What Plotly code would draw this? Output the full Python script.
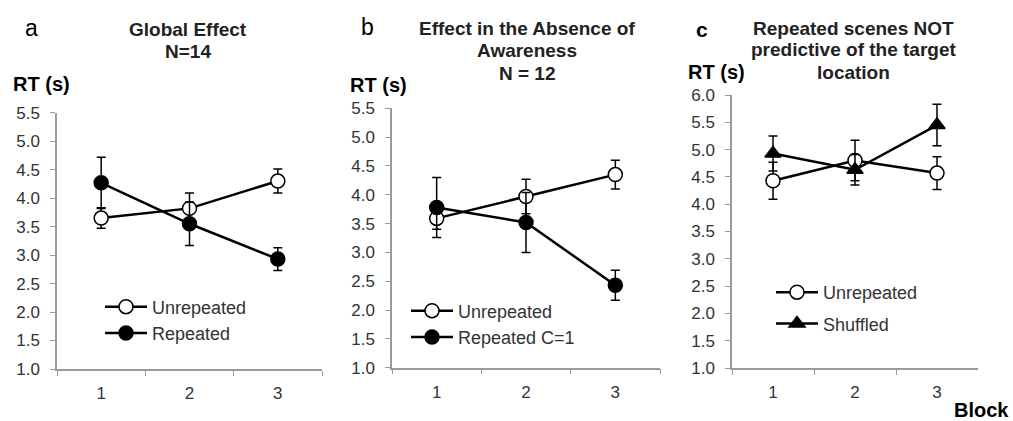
import plotly.graph_objects as go

blocks = ["1", "2", "3"]

# Panel a: Global Effect N=14
a_unrep = [3.65, 3.82, 4.30]
a_unrep_err = [0.18, 0.27, 0.21]
a_rep = [4.27, 3.55, 2.93]
a_rep_err = [0.45, 0.38, 0.20]

# Panel b: Effect in the Absence of Awareness N=12
b_unrep = [3.59, 3.97, 4.35]
b_unrep_err = [0.19, 0.30, 0.25]
b_rep = [3.78, 3.52, 2.43]
b_rep_err = [0.52, 0.52, 0.26]

# Panel c: Repeated scenes NOT predictive of the target location
c_unrep = [4.43, 4.80, 4.57]
c_unrep_err = [0.34, 0.37, 0.30]
c_shuf = [4.93, 4.63, 5.45]
c_shuf_err = [0.32, 0.28, 0.38]

W, H = 1013, 421
FONT = "Arial"

def px_x(v):
    return v / W

def px_y(v):
    return (H - v) / H

fig = go.Figure()

def add(x, y, err, name, symbol, fill, xa, ya, legend, group):
    fig.add_trace(go.Scatter(
        x=x, y=y, name=name, mode="lines+markers",
        xaxis=xa, yaxis=ya, legend=legend, legendgroup=group,
        line=dict(color="black", width=2.5),
        marker=dict(symbol=symbol, size=14, color=fill,
                    line=dict(color="black", width=1.5)),
        error_y=dict(type="data", array=err, visible=True,
                     color="black", thickness=1.5, width=4.5),
    ))

add(blocks, a_unrep, a_unrep_err, "Unrepeated", "circle", "white", "x", "y", "legend", "a")
add(blocks, a_rep, a_rep_err, "Repeated", "circle", "black", "x", "y", "legend", "a")
add(blocks, b_unrep, b_unrep_err, "Unrepeated", "circle", "white", "x2", "y2", "legend2", "b")
add(blocks, b_rep, b_rep_err, "Repeated C=1", "circle", "black", "x2", "y2", "legend2", "b")
add(blocks, c_unrep, c_unrep_err, "Unrepeated", "circle", "white", "x3", "y3", "legend3", "c1")
add(blocks, c_shuf, c_shuf_err, "Shuffled", "triangle-up", "black", "x3", "y3", "legend3", "c2")

axis_common = dict(showline=True, linecolor="#9a9a9a", linewidth=1.5,
                   ticks="outside", tickcolor="#9a9a9a", ticklen=5,
                   showgrid=False, zeroline=False, automargin=False,
                   tickfont=dict(family=FONT, size=17, color="#333333"))

xdoms = [(57, 322), (392, 660), (732, 978)]
ydoms = [(369, 112.7), (367.7, 108.3), (368, 95)]
yranges = [[1, 5.5], [1, 5.5], [1, 6]]
yticks = [[1 + 0.5 * i for i in range(10)], [1 + 0.5 * i for i in range(10)],
          [1 + 0.5 * i for i in range(11)]]

layout = {}
for i in range(3):
    sx = "" if i == 0 else str(i + 1)
    layout["xaxis" + sx] = dict(axis_common, type="category", tickson="boundaries",
                                domain=[px_x(xdoms[i][0]), px_x(xdoms[i][1])],
                                anchor="y" + sx, ticklabelstandoff=8,
                                range=[-0.5, 2.5])
    layout["yaxis" + sx] = dict(axis_common, range=yranges[i],
                                domain=[px_y(ydoms[i][0]), px_y(ydoms[i][1])],
                                anchor="x" + sx, tickvals=yticks[i],
                                ticktext=["%.1f" % v for v in yticks[i]],
                                ticklabelstandoff=7)

legfont = dict(family=FONT, size=18, color="#333333")
leg = dict(bgcolor="rgba(0,0,0,0)", font=legfont, xanchor="left", yanchor="middle",
           tracegroupgap=0, itemwidth=42)
layout["legend"] = dict(leg, x=px_x(100), y=px_y(320))
layout["legend2"] = dict(leg, x=px_x(406), y=px_y(324))
layout["legend3"] = dict(leg, x=px_x(771), y=px_y(308), tracegroupgap=5)

fig.update_layout(
    width=W, height=H, margin=dict(l=0, r=0, t=0, b=0, autoexpand=False),
    paper_bgcolor="white", plot_bgcolor="white", showlegend=True,
    **layout,
)

def ann(text, x, y, size, bold=False, color="black", xanchor="center"):
    fig.add_annotation(text=("<b>%s</b>" % text) if bold else text,
                       x=px_x(x), y=px_y(y), xref="paper", yref="paper",
                       showarrow=False, xanchor=xanchor, yanchor="middle",
                       font=dict(family=FONT, size=size, color=color))

# panel letters
ann("a", 31, 28, 23)
ann("b", 367, 27, 23)
ann("c", 702, 29, 21, bold=True)
# titles
TS = 19
ann("Global Effect", 188, 29, TS, bold=True, color="#222222")
ann("N=14", 188, 52, TS, bold=True, color="#222222")
ann("Effect in the Absence of", 527, 28, TS, bold=True, color="#222222")
ann("Awareness", 527, 51, TS, bold=True, color="#222222")
ann("N = 12", 527, 73, TS, bold=True, color="#222222")
ann("Repeated scenes NOT", 853, 28, TS, bold=True, color="#222222")
ann("predictive of the target", 853, 50, TS, bold=True, color="#222222")
ann("location", 853, 72, TS, bold=True, color="#222222")
# y labels
ann("RT (s)", 41, 84, 20, bold=True)
ann("RT (s)", 378, 85, 20, bold=True)
ann("RT (s)", 716, 72, 20, bold=True)
ann("Block", 1011, 410, 20, bold=True, xanchor="right")

# the page would otherwise add its default 8px body margin around the figure
fig.write_html(
    "out.html",
    config={"displayModeBar": False},
    post_script="document.body.style.margin='0';document.body.style.overflow='hidden';",
)
